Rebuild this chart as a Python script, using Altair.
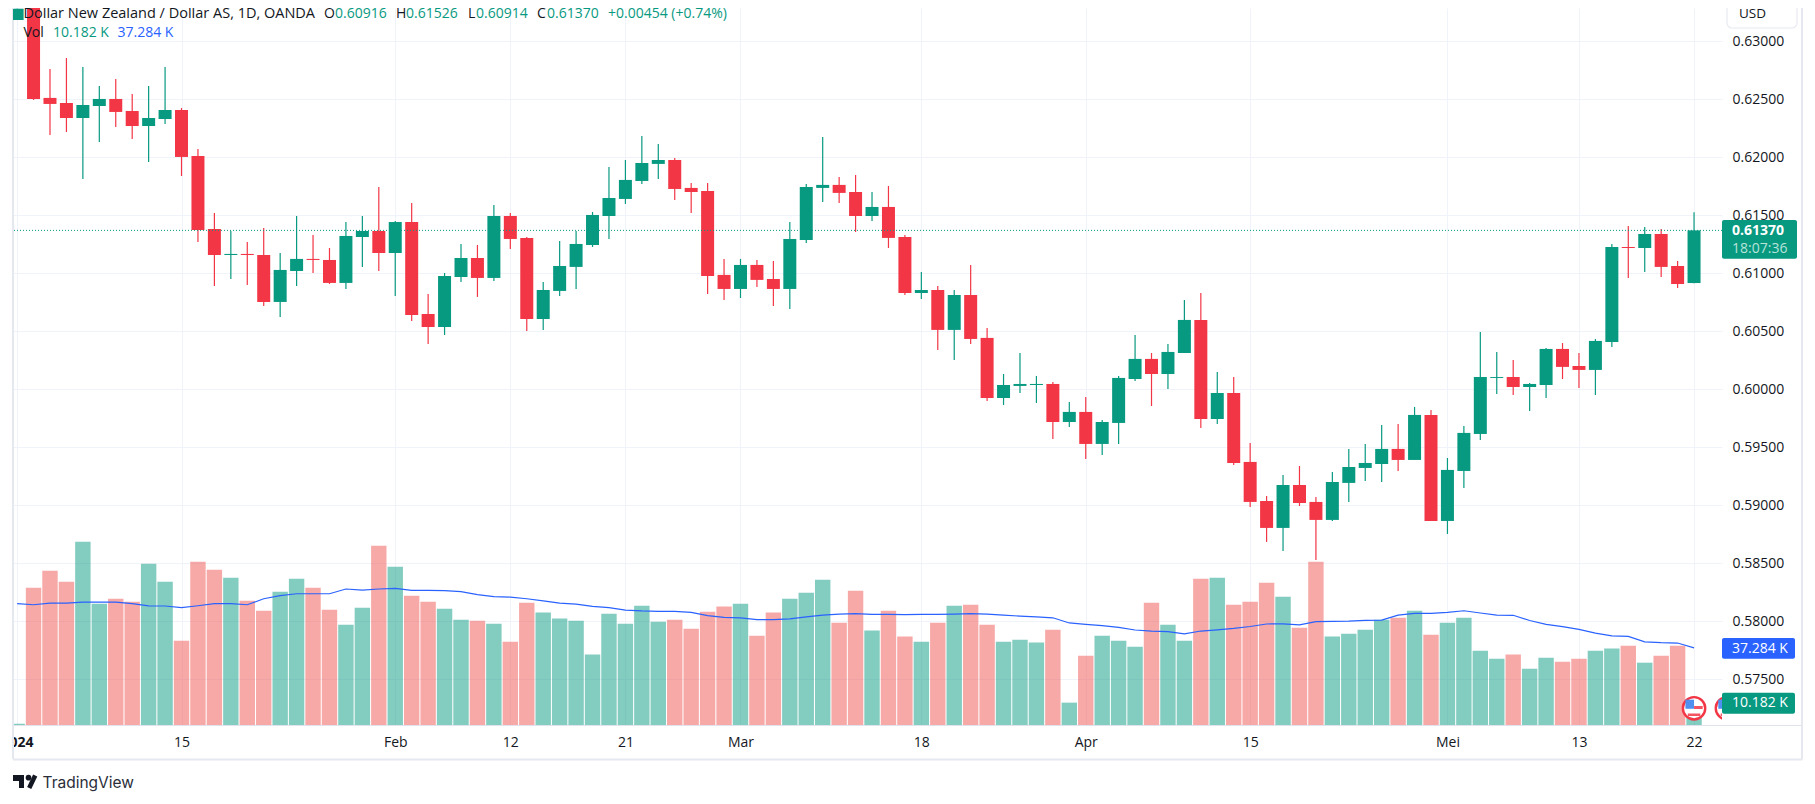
import altair as alt
import pandas as pd

# Prices in 1e-5 units (index 0 = 1 Jan 2024, weekdays)
opens = [63184,63296,62512,62468,62339,62442,62503,62399,62270,62330,62408,62011,61382,61158,61167,61158,60753,61020,61124,61115,
         60917,61313,61365,61175,61442,60649,60537,60968,61132,60960,61494,61305,60606,60848,61055,61244,61494,61641,61796,61943,
         61977,61736,61710,60986,60865,61072,60951,60865,61287,61736,61762,61701,61494,61572,61313,60830,60856,60512,60813,60443,
         59925,60029,60037,60046,59718,59805,59529,59710,60089,60262,60132,60313,60598,59744,59968,59374,59037,58805,59175,59029,
         58874,59193,59322,59356,59486,59391,59779,58865,59296,59615,60098,60106,60020,60037,60348,60201,60167,60408,61227,61218,
         61339,61063,60916]
highs = [63281,63313,62762,62856,62779,62615,62675,62546,62615,62779,62425,62072,61520,61365,61270,61391,61175,61494,61330,61218,
         61442,61494,61744,61451,61606,60822,61003,61253,61244,61589,61520,61313,60925,61279,61365,61529,61917,61977,62184,62115,
         61994,61779,61779,61124,61124,61115,61106,61443,61770,62175,61831,61848,61701,61753,61330,61012,60891,60856,61072,60529,
         60132,60313,60115,60063,59891,59934,59736,60115,60468,60313,60391,60770,60831,60149,60106,59537,59080,59261,59339,59072,
         59287,59486,59529,59692,59701,59848,59822,59408,59684,60494,60322,60253,60055,60356,60399,60313,60434,61253,61408,61399,
         61382,61106,61526]
lows = [63184,62494,62193,62218,61813,62132,62261,62158,61960,62287,61839,61270,60891,60951,60899,60718,60623,60891,61003,60908,
        60865,61055,61020,60805,60589,60391,60468,60925,60796,60934,61210,60503,60511,60805,60865,61227,61296,61598,61770,61813,
        61632,61520,60822,60770,60787,60882,60718,60693,61262,61615,61606,61356,61451,61218,60813,60779,60339,60253,60391,59899,
        59865,59968,59882,59572,59675,59400,59434,59529,60072,59856,60003,60313,59667,59701,59348,58986,58684,58606,58994,58529,
        58865,59029,59210,59201,59296,59391,58865,58753,59149,59563,59960,59951,59813,59925,60089,60011,59951,60365,60960,61011,
        60968,60874,60914]
closes = [63281,62503,62460,62339,62451,62503,62391,62270,62339,62408,62003,61374,61158,61167,61158,60753,61029,61124,61115,60917,
          61322,61365,61175,61442,60641,60537,60977,61132,60960,61494,61296,60606,60856,61063,61253,61503,61649,61805,61951,61977,
          61727,61701,60977,60865,61072,60943,60865,61296,61744,61762,61693,61494,61572,61305,60830,60856,60512,60813,60434,59925,
          60037,60046,60046,59718,59805,59529,59718,60098,60262,60132,60322,60598,59744,59968,59365,59029,58805,59175,59020,58874,
          59201,59330,59365,59486,59391,59779,58865,59305,59624,60106,60106,60020,60046,60348,60193,60167,60417,61227,61218,61339,
          61055,60908,61370]
volumes = [0.6,66.3,74.5,69.2,88.5,58.6,61.0,59.6,77.9,69.2,40.7,78.9,75.0,71.2,60.0,55.2,64.4,70.7,66.3,55.7,
           48.4,56.7,86.6,76.5,62.5,59.6,56.2,50.9,50.4,48.9,40.2,59.1,54.3,51.4,50.4,34.0,53.8,48.9,57.6,49.9,
           50.9,46.5,54.7,57.2,58.6,43.1,54.3,61.0,63.9,70.2,49.4,64.9,45.6,55.2,42.7,40.2,49.4,57.6,58.1,48.4,
           40.2,41.2,39.8,46.0,10.8,33.5,43.1,40.7,37.8,59.1,48.4,40.7,70.7,71.2,58.1,59.6,68.7,62.0,47.0,78.9,
           42.7,44.1,46.0,50.9,51.8,55.2,43.6,49.4,51.8,35.9,32.0,34.0,27.2,32.5,30.6,32.0,35.9,36.9,38.3,30.1,
           33.5,38.3,10.182]
vol_ma = [58.6,58.1,58.9,58.9,59.4,59.4,59.4,58.6,57.6,57.5,56.7,57.6,58.6,58.6,58.1,61.0,62.5,63.4,63.4,63.4,
          65.7,65.2,65.7,66.0,65.0,65.0,64.9,64.4,63.0,62.0,61.8,61.0,60.0,58.9,58.4,57.3,56.7,55.5,55.1,54.9,
          54.9,54.4,52.8,52.0,51.8,50.9,50.9,51.3,52.2,53.1,53.6,53.8,53.4,53.4,53.3,53.4,53.4,53.6,53.8,53.6,
          53.1,52.6,52.2,51.8,49.3,48.6,48.0,47.2,45.9,45.4,45.1,44.0,45.4,46.0,46.7,47.6,48.8,48.9,48.4,49.9,
          50.1,50.2,50.5,50.7,53.1,53.9,53.9,54.4,55.2,54.1,53.1,53.0,50.5,48.6,47.5,46.2,44.4,43.1,42.8,40.2,
          39.8,39.6,37.284]
tick_idx = [0,10,23,30,37,44,55,65,75,87,95,102]
tick_lab = ["2024","15","Feb","12","21","Mar","18","Apr","15","Mei","13","22"]
price_ticks = [0.575,0.58,0.585,0.59,0.595,0.60,0.605,0.61,0.615,0.62,0.625,0.63]
icon_idx = [102,104]

GREEN, RED, BLUE, INK, GRID, BORDER = "#089981", "#F23645", "#2962FF", "#131722", "#f0f3fa", "#e6e8f0"
VOL_RED = "#ef5350"
FONT = "Open Sans"
FS = 14

df = pd.DataFrame({"i": range(len(opens)), "o": opens, "h": highs, "l": lows, "c": closes,
                   "v": volumes, "ma": vol_ma})
for k in "ohlc":
    df[k] = df[k] / 1e5
df["up"] = df.c >= df.o
colour = alt.Color("up:N", scale=alt.Scale(domain=[True, False], range=[GREEN, RED]), legend=None)
vcolour = alt.Color("up:N", scale=alt.Scale(domain=[True, False], range=[GREEN, VOL_RED]), legend=None)

W, H = 1709, 717
xs = alt.Scale(domain=[-0.25, 103.7], nice=False, zero=False, padding=0)
ps = alt.Scale(domain=[0.57106, 0.632871], nice=False, zero=False, padding=0)
vs = alt.Scale(domain=[0, 346.4], nice=False, zero=False, padding=0)
labelExpr = "%s[indexof(%s, datum.value)]" % (tick_lab, tick_idx)
xaxis = alt.Axis(values=tick_idx, labelExpr=labelExpr, grid=True, gridColor=GRID, domain=False, ticks=False,
                 title=None, labelFont=FONT, labelFontSize=FS, labelColor=INK, labelFlush=False, labelOverlap=False,
                 labelPadding=10.5, labelAngle=0,
                 labelFontWeight={"condition": {"test": "datum.value == 0", "value": "bold"}, "value": "normal"})
yaxis = alt.Axis(values=price_ticks, format=".5f", orient="right", grid=True, gridColor=GRID, domain=False, ticks=False,
                 title=None, labelFont=FONT, labelFontSize=FS, labelColor=INK, labelPadding=10, labelOverlap=False,
                 labelFlush=False)
X = alt.X("i:Q", scale=xs, axis=xaxis)
base = alt.Chart(df)

grid = base.mark_rule(opacity=0).encode(X, alt.Y("c:Q", scale=ps, axis=yaxis))
vol = base.mark_bar(size=15.4, orient="vertical", opacity=0.5, clip=True).encode(
    X, alt.Y("v:Q", scale=vs, axis=None, stack=None), color=vcolour)
ma = base.mark_line(color=BLUE, strokeWidth=1.2, clip=True).encode(X, alt.Y("ma:Q", scale=vs, axis=None))
wick = base.mark_rule(strokeWidth=1.2, clip=True).encode(
    X, alt.Y("l:Q", scale=ps, axis=None), alt.Y2("h:Q"), color=colour)
body = base.mark_bar(size=13, orient="vertical", clip=True).encode(
    X, alt.Y("o:Q", scale=ps, axis=None), alt.Y2("c:Q"), color=colour)
last = alt.Chart(df.tail(1)).mark_rule(color=GREEN, strokeDash=[1, 2], strokeWidth=1).encode(
    alt.Y("c:Q", scale=ps, axis=None))


def px(x):
    return x - 13


def py(y):
    return y - 8


def text(s, x, y, color=INK, size=FS, weight="normal", align="left", font=FONT):
    return alt.Chart(df.head(1)).mark_text(text=s, color=color, fontSize=size, fontWeight=weight, align=align,
                                           baseline="middle", font=font).encode(
        x=alt.value(px(x)), y=alt.value(py(y)))


def box(x0, x1, y0, y1, fill, stroke=None, r=2):
    kw = {"stroke": stroke, "strokeWidth": 1.2} if stroke else {}
    return alt.Chart(df.head(1)).mark_rect(color=fill, cornerRadius=r, **kw).encode(
        x=alt.value(px(x0)), x2=alt.value(px(x1)), y=alt.value(py(y0)), y2=alt.value(py(y1)))


def line(x0, y0, x1, y1, color=BORDER, w=2):
    return alt.Chart(df.head(1)).mark_rule(color=color, strokeWidth=w).encode(
        x=alt.value(px(x0)), x2=alt.value(px(x1)), y=alt.value(py(y0)), y2=alt.value(py(y1)))


# Event flags
idf = pd.DataFrame({"i": icon_idx})
iy = alt.value(py(708.3))
ring = alt.Chart(idf).mark_point(shape="circle", size=500, filled=True, fill="white", stroke=RED, strokeWidth=2.4,
                                 opacity=1, clip=True).encode(X, y=iy)
fblue = alt.Chart(idf).mark_point(shape="M-0.36,-0.36H0V0.02H-0.36Z", size=2304, filled=True, color="#4f8ff0", opacity=1,
                                  clip=True).encode(X, y=iy)
fred = alt.Chart(idf).mark_point(shape="M0,-0.1H0.36V0.03H0ZM-0.26,0.22H0.26V0.32H-0.26Z", size=2304, filled=True,
                                 color=RED, opacity=0.85, clip=True).encode(X, y=iy)

# Decoration and labels outside the panes
overlays = [
    box(0, 12, 730, 756, "white", r=0),
    line(13, 0, 13, 759),
    line(13, 759.5, 1802, 759.5),
    line(1802, 0, 1802, 759.5),
    line(13, 725.5, 1802, 725.5, "#e0e3eb", 1.2),
    box(1727, 1797, -4, 28, "white", stroke="#e8eaf1", r=5),
    text("USD", 1739, 13.5, size=13.5),
    box(1722, 1797, 220, 258.7, GREEN),
    text("0.61370", 1732, 230.6, "white", FS, "bold"),
    text("18:07:36", 1732, 248.8, "#b7e3da", FS),
    box(1722, 1795, 638, 658.7, BLUE),
    text("37.284 K", 1732, 648.5, "white", FS),
    box(1722, 1795, 692.7, 713.7, GREEN),
    text("10.182 K", 1732, 703, "white", FS),
    # Legend
    box(13, 23, 9, 20, GREEN, r=0),
    text("Dollar New Zealand / Dollar AS, 1D, OANDA", 23.5, 13.5, size=14.5),
    text("O", 324, 13.5), text("0.60916", 335, 13.5, GREEN),
    text("H", 396, 13.5), text("0.61526", 406, 13.5, GREEN),
    text("L", 468, 13.5), text("0.60914", 476, 13.5, GREEN),
    text("C", 537, 13.5), text("0.61370", 547, 13.5, GREEN),
    text("+0.00454 (+0.74%)", 608, 13.5, GREEN),
    text("Vol", 23.5, 33),
    text("10.182 K", 53, 33, GREEN),
    text("37.284 K", 117.5, 33, BLUE),
    # Logo
    box(13, 24, 775, 781, INK, r=0),
    box(19, 24, 781, 788, INK, r=0),
    alt.Chart(df.head(1)).mark_point(shape="circle", size=32, filled=True, color=INK, opacity=1).encode(
        x=alt.value(px(28.5)), y=alt.value(py(777.7))),
    line(35.2, 775.5, 29.2, 788, INK, 4.6),
    text("TradingView", 42.5, 783, "#2a2e39", 15.5, font="Inter"),
]

chart = alt.layer(grid, vol, ma, wick, body, last, ring, fblue, fred, *overlays).resolve_scale(
    y="independent", color="independent").properties(
    width=W, height=H,
    padding={"left": 5, "top": 0, "right": 85, "bottom": 68},
    autosize=alt.AutoSizeParams(type="none"),
    background="white",
).configure_view(stroke=None)

chart.save("out.html", embed_options={"renderer": "svg", "actions": False})
